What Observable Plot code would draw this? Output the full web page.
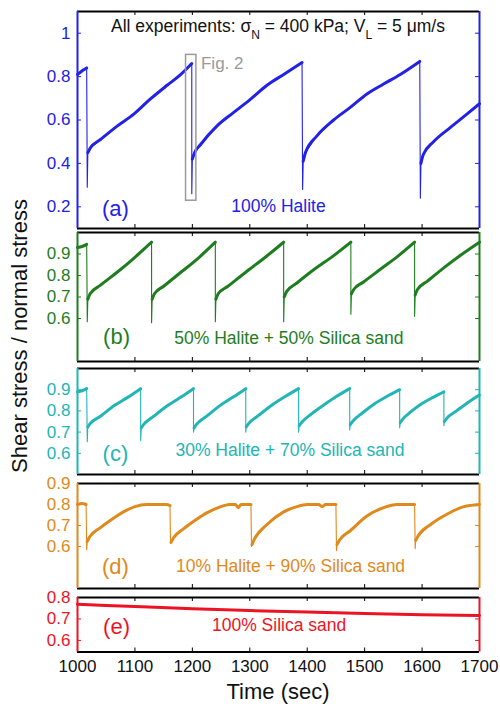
<!DOCTYPE html>
<html><head><meta charset="utf-8">
<script src="https://cdn.jsdelivr.net/npm/d3@7"></script>
<script src="https://cdn.jsdelivr.net/npm/@observablehq/plot@0.6"></script>
<style>
body{margin:0;background:#fff;}
#wrap{position:relative;width:500px;height:707px;overflow:hidden;font-family:"Liberation Sans",Arial,Helvetica,sans-serif;}
#wrap > div.plotbox{position:absolute;left:0;}
svg{overflow:visible}
.txt{position:absolute;white-space:nowrap;color:#111;}
</style></head><body><div id="wrap"></div>
<script>
// ---- data ----
const timeTicks = [1000, 1100, 1200, 1300, 1400, 1500, 1600, 1700];

// (a) 100% Halite
const haliteT = [1000,1005,1010,1016, 1017,1018,1022,1040,1069,1098,1127,1156,1180,1199,
  1199,1200,1204,1214,1243,1272,1301,1330,1359,1391,
  1392,1393,1397,1417,1446,1475,1504,1533,1562,1596,
  1597,1598,1602,1620,1649,1678,1700];
const haliteV = [0.81,0.82,0.83,0.84, 0.29,0.45,0.47,0.51,0.572,0.627,0.697,0.76,0.81,0.86,
  0.26,0.42,0.45,0.486,0.573,0.635,0.695,0.76,0.81,0.865,
  0.28,0.41,0.45,0.527,0.60,0.658,0.72,0.766,0.81,0.87,
  0.24,0.40,0.44,0.50,0.565,0.627,0.675];

// (b) 50% Halite + 50% Silica sand
const mix50T = [1000,1008,1016, 1017,1018,1022,1040,1069,1098,1129,
  1129,1130,1134,1150,1180,1210,1240,
  1240,1241,1245,1262,1295,1327,1359,
  1359,1360,1364,1382,1413,1445,1476,
  1476,1477,1481,1498,1528,1558,1587,
  1587,1588,1592,1610,1640,1670,1700];
const mix50V = [0.93,0.935,0.945, 0.585,0.69,0.715,0.755,0.815,0.88,0.955,
  0.58,0.69,0.715,0.75,0.815,0.88,0.955,
  0.585,0.69,0.715,0.75,0.82,0.885,0.955,
  0.585,0.70,0.725,0.765,0.83,0.89,0.955,
  0.62,0.715,0.735,0.77,0.83,0.89,0.955,
  0.61,0.71,0.735,0.775,0.84,0.90,0.955];

// (c) 30% Halite + 70% Silica sand
const mix30T = [1000,1008,1016, 1017,1018,1022,1040,1064,1088,1110,
  1110,1111,1115,1133,1157,1180,1202,
  1202,1203,1207,1225,1248,1271,1293,
  1293,1294,1298,1316,1340,1363,1385,
  1385,1386,1390,1407,1430,1452,1474,
  1474,1475,1479,1496,1518,1540,1561,
  1561,1562,1566,1580,1600,1620,1638,
  1638,1639,1643,1660,1680,1700];
const mix30V = [0.89,0.895,0.905, 0.655,0.725,0.74,0.775,0.825,0.865,0.905,
  0.66,0.72,0.735,0.775,0.825,0.865,0.905,
  0.70,0.72,0.735,0.775,0.825,0.865,0.905,
  0.70,0.725,0.74,0.78,0.83,0.87,0.905,
  0.70,0.73,0.745,0.785,0.83,0.87,0.905,
  0.71,0.735,0.75,0.79,0.835,0.87,0.90,
  0.72,0.745,0.76,0.795,0.835,0.865,0.89,
  0.73,0.75,0.765,0.80,0.84,0.875];

// (d) 10% Halite + 90% Silica sand
const mix10T = [1000,1008,1015, 1016,1017,1021,1040,1060,1080,1100,1120,1140,1155,1161,
  1162,1163,1167,1185,1205,1225,1245,1265,1275,1280,1285,1302,
  1303,1304,1308,1330,1359,1382,1400,1420,1426,1432,1450,
  1451,1452,1456,1475,1504,1533,1557,1575,1587,
  1588,1589,1593,1615,1644,1673,1700];
const mix10V = [0.80,0.805,0.80, 0.585,0.625,0.645,0.69,0.73,0.765,0.79,0.80,0.80,0.80,0.795,
  0.615,0.62,0.64,0.685,0.725,0.76,0.785,0.80,0.80,0.785,0.80,0.80,
  0.60,0.61,0.635,0.705,0.765,0.79,0.80,0.80,0.79,0.80,0.80,
  0.58,0.61,0.63,0.675,0.745,0.785,0.80,0.80,0.80,
  0.59,0.63,0.65,0.705,0.755,0.79,0.80];

// (e) 100% Silica sand
const silicaT = [1000,1100,1200,1300,1400,1500,1600,1700];
const silicaV = [0.768,0.758,0.748,0.739,0.732,0.725,0.72,0.716];

const panelLetters = ["(a)","(b)","(c)","(d)","(e)"];
const panelNames = ["100% Halite","50% Halite + 50% Silica sand","30% Halite + 70% Silica sand","10% Halite + 90% Silica sand","100% Silica sand"];
const yTicksA = [0.2,0.4,0.6,0.8,1];
const yTicksB = [0.6,0.7,0.8,0.9];
const yTicksC = [0.6,0.7,0.8,0.9];
const yTicksD = [0.6,0.7,0.8,0.9];
const yTicksE = [0.6,0.7,0.8];

// ---- build ----
const FONT = '"Liberation Sans", Arial, Helvetica, sans-serif';
function series(T, V) {
  let cycle = 0;
  return T.map((t, i) => {
    const spike = i > 0 && V[i] < V[i - 1] - 0.05;
    if (spike) cycle++;
    return {t, v: V[i], spike, cycle};
  });
}
const wrap = document.getElementById("wrap");
const innerW = 500 - 77 - 21;

function panel(cfg) {
  const {data, color, domain, ticks, top, bottom, mt, mb, idx, letterPos, namePos, extra = [], xLabels = false} = cfg;
  const innerH = bottom - top;
  const marks = [
    Plot.line(data, {x: "t", y: "v", stroke: color, strokeWidth: 1.1}),
    Plot.line(data.filter(d => !d.spike), {x: "t", y: "v", z: "cycle", stroke: color, strokeWidth: 3, curve: "monotone-x", strokeLinejoin: "round"}),
    ...extra,
    Plot.tickX(timeTicks.slice(1, -1), {x: d => d, insetBottom: innerH - 4, stroke: "#000"}),
    Plot.tickX(timeTicks.slice(1, -1), {x: d => d, insetTop: innerH - 4, stroke: "#000"}),
    Plot.tickY(ticks, {y: d => d, insetRight: innerW - 4, stroke: color}),
    Plot.tickY(ticks, {y: d => d, insetLeft: innerW - 4, stroke: color}),
    Plot.ruleY(domain, {stroke: "#000", strokeWidth: 2}),
    Plot.ruleX([1000, 1700], {stroke: color, strokeWidth: 2}),
    Plot.axisY(ticks, {tickSize: 0, tickPadding: 7, tickFormat: d3.format("~g"), color, fontSize: 17, label: null}),
    Plot.text([panelLetters[idx]], {x: () => letterPos[0], y: () => letterPos[1], text: d => d, fill: color, fontSize: 22}),
    Plot.text([panelNames[idx]], {x: () => namePos[0], y: () => namePos[1], text: d => d, fill: color, fontSize: 17.5})
  ];
  if (xLabels) marks.push(Plot.axisX(timeTicks, {tickSize: 0, tickPadding: 8, tickFormat: d3.format("d"), fontSize: 17, color: "#111", label: null}));
  const chart = Plot.plot({
    width: 500, height: innerH + mt + mb,
    marginTop: mt, marginBottom: mb, marginLeft: 77, marginRight: 21,
    style: {background: "transparent", fontFamily: FONT, overflow: "visible"},
    x: {domain: [1000, 1700], axis: xLabels ? undefined : null},
    y: {domain},
    marks
  });
  const box = document.createElement("div");
  box.className = "plotbox";
  box.style.top = (top - mt) + "px";
  box.appendChild(chart);
  wrap.appendChild(box);
}

panel({data: series(haliteT, haliteV), color: "#2222e6", domain: [0.1, 1.1], ticks: yTicksA, top: 11, bottom: 228, mt: 8, mb: 4, idx: 0,
  letterPos: [1066, 0.19], namePos: [1350, 0.2],
  extra: [
    Plot.rect([{a: 1189, b: 1207, c: 0.228, d: 0.90}], {x1: "a", x2: "b", y1: "c", y2: "d", fill: "none", stroke: "#9a9a9a", strokeWidth: 1.5}),
    Plot.text(["Fig. 2"], {x: () => 1215, y: () => 0.86, text: d => d, textAnchor: "start", fill: "#9a9a9a", fontSize: 17})
  ]});
panel({data: series(mix50T, mix50V), color: "#1e7d1e", domain: [0.4, 1.0], ticks: yTicksB, top: 232, bottom: 361, mt: 4, mb: 4, idx: 1,
  letterPos: [1068, 0.513], namePos: [1368, 0.508]});
panel({data: series(mix30T, mix30V), color: "#22b5b5", domain: [0.5, 1.0], ticks: yTicksC, top: 368, bottom: 474, mt: 4, mb: 4, idx: 2,
  letterPos: [1066, 0.595], namePos: [1370, 0.614]});
panel({data: series(mix10T, mix10V), color: "#e0891c", domain: [0.4, 0.9], ticks: yTicksD, top: 482.5, bottom: 587.5, mt: 8, mb: 4, idx: 3,
  letterPos: [1066, 0.502], namePos: [1371, 0.507]});
panel({data: series(silicaT, silicaV), color: "#ec1424", domain: [0.546, 0.8], ticks: yTicksE, top: 596.5, bottom: 651, mt: 8, mb: 30, idx: 4,
  letterPos: [1068, 0.662], namePos: [1351, 0.669], xLabels: true});

// ---- texts outside the SVGs ----
const title = document.createElement("div");
title.className = "txt";
title.style.cssText += "left:278px;top:16px;transform:translateX(-50%);font-size:17.5px;line-height:20px;";
title.innerHTML = 'All experiments: σ<span style="font-size:12px;vertical-align:-7px">N</span> = 400 kPa; V<span style="font-size:12px;vertical-align:-7px">L</span> = 5 μm/s';
wrap.appendChild(title);

const ylab = document.createElement("div");
ylab.className = "txt";
ylab.style.cssText += "left:20px;top:336px;transform:translate(-50%,-50%) rotate(-90deg);font-size:22px;";
ylab.textContent = "Shear stress / normal stress";
wrap.appendChild(ylab);

const xlab = document.createElement("div");
xlab.className = "txt";
xlab.style.cssText += "left:278px;top:692px;transform:translate(-50%,-50%);font-size:22px;";
xlab.textContent = "Time (sec)";
wrap.appendChild(xlab);
</script>
</body></html>
